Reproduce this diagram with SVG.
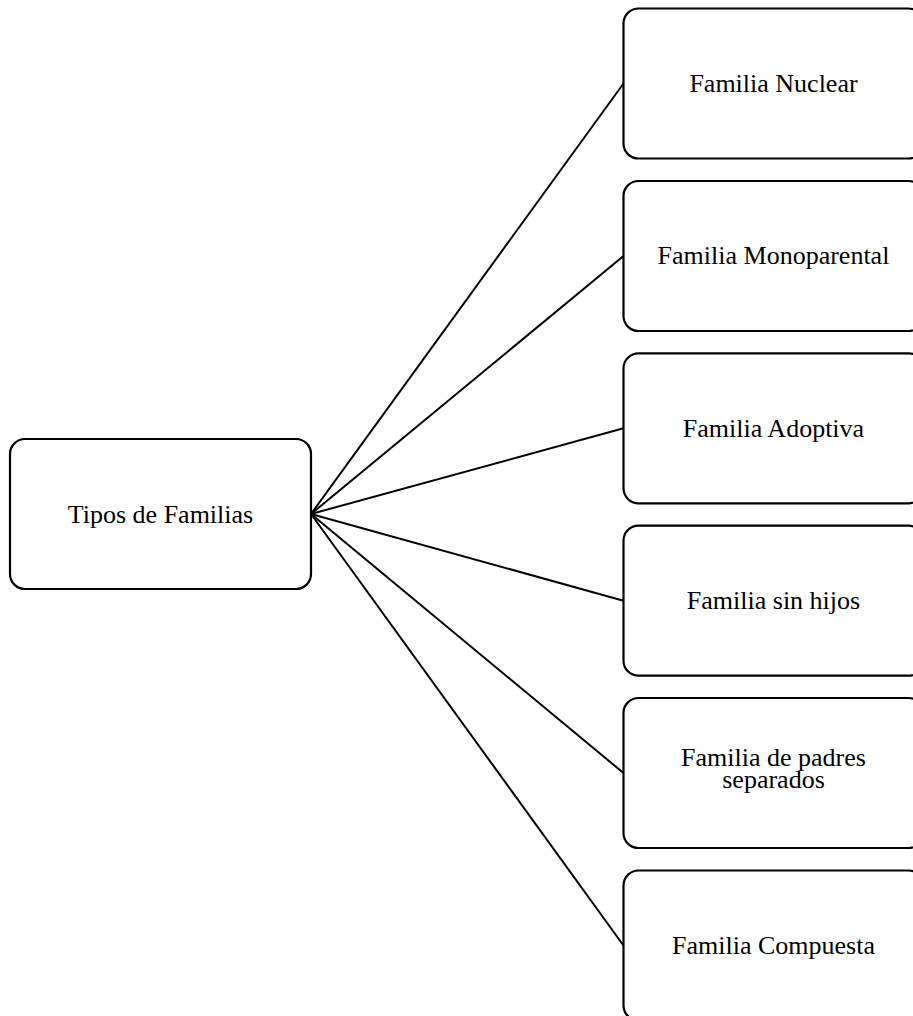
<svg xmlns="http://www.w3.org/2000/svg" width="913" height="1016" viewBox="0 0 913 1016">
<style>
.box{fill:#fff;stroke:#000;stroke-width:2.2}
.lbl{font-family:"Liberation Serif","Times New Roman",serif;font-size:26px;fill:#000;text-anchor:middle}
.conn line{stroke:#000;stroke-width:2}
</style>
<rect width="913" height="1016" fill="#fff"/>
<g class="conn" id="connectors">
<line x1="311" y1="514" x2="623.5" y2="83.5"/>
<line x1="311" y1="514" x2="623.5" y2="256"/>
<line x1="311" y1="514" x2="623.5" y2="428.3"/>
<line x1="311" y1="514" x2="623.5" y2="600.7"/>
<line x1="311" y1="514" x2="623.5" y2="773"/>
<line x1="311" y1="514" x2="623.5" y2="945.5"/>
</g>
<g id="root">
<rect class="box" x="10" y="439" width="301" height="150" rx="15"/>
<text class="lbl" x="160.5" y="522.5">Tipos de Familias</text>
</g>
<g id="n1">
<rect class="box" x="623.5" y="8.5" width="300" height="150" rx="15"/>
<text class="lbl" x="773.5" y="92">Familia Nuclear</text>
</g>
<g id="n2">
<rect class="box" x="623.5" y="181" width="300" height="150" rx="15"/>
<text class="lbl" x="773.5" y="264">Familia Monoparental</text>
</g>
<g id="n3">
<rect class="box" x="623.5" y="353.3" width="300" height="150" rx="15"/>
<text class="lbl" x="773.5" y="436.5">Familia Adoptiva</text>
</g>
<g id="n4">
<rect class="box" x="623.5" y="525.7" width="300" height="150" rx="15"/>
<text class="lbl" x="773.5" y="609">Familia sin hijos</text>
</g>
<g id="n5">
<rect class="box" x="623.5" y="698" width="300" height="150" rx="15"/>
<text class="lbl" x="773.5" y="766">Familia de padres</text>
<text class="lbl" x="773.5" y="788">separados</text>
</g>
<g id="n6">
<rect class="box" x="623.5" y="870.5" width="300" height="150" rx="15"/>
<text class="lbl" x="773.5" y="954">Familia Compuesta</text>
</g>
</svg>
